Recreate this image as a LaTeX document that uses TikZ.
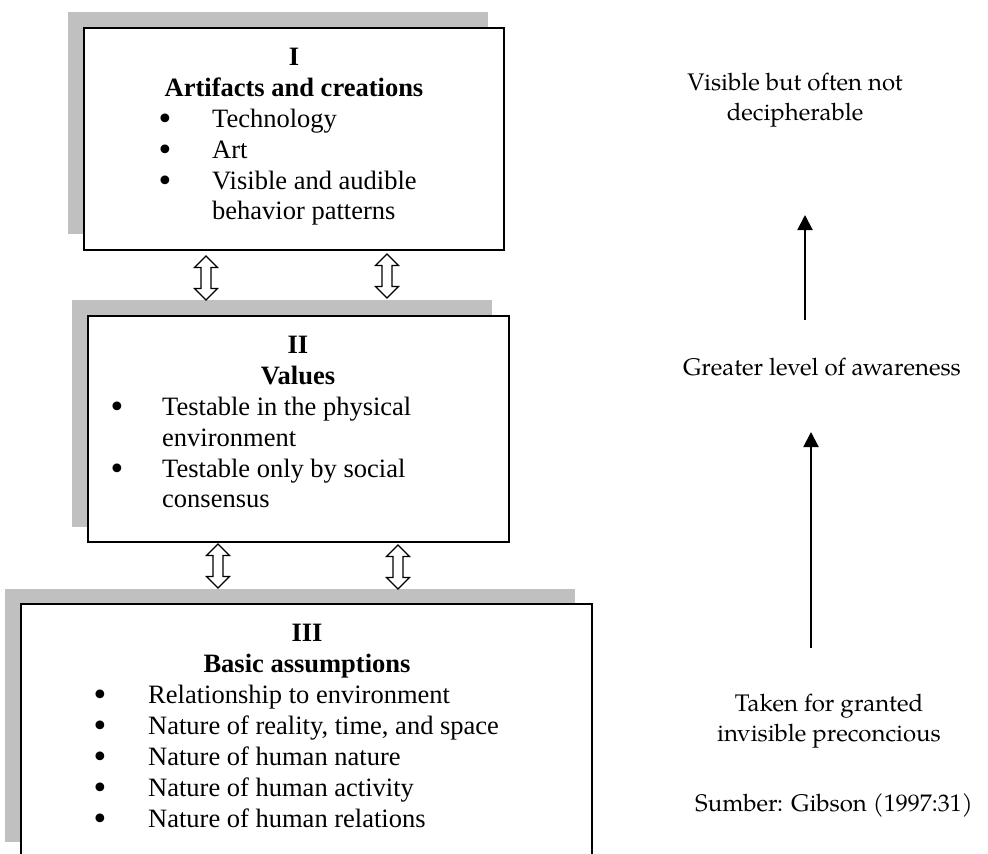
\documentclass[tikz,border=0pt]{standalone}
\usepackage{fontspec}
\setmainfont{Liberation Serif}
\newfontfamily\pal{texgyrepagella-regular.otf}
\newfontfamily\bulfont{DejaVu Sans}
\usetikzlibrary{arrows.meta}
\definecolor{shadowgray}{HTML}{C0C0C0}
\begin{document}
\begin{tikzpicture}[x=1pt,y=-1pt,
  box/.style={rectangle,draw=black,line width=1.8pt,fill=white,inner sep=0pt},
  shadowbox/.style={fill=shadowgray},
  ttl/.style={font=\fontsize{26.5}{31}\selectfont\bfseries,anchor=base,inner sep=0pt},
  bul/.style={font=\fontsize{30}{30}\selectfont\bulfont,anchor=base,inner sep=0pt},
  itm/.style={font=\fontsize{26.5}{31}\selectfont,anchor=base west,inner sep=0pt},
  side/.style={font=\fontsize{24}{30}\selectfont\pal,anchor=base,align=center,inner sep=0pt},
  dbl/.pic={\draw[line width=1.1pt,fill=white,line join=miter]
      (0,-22) -- (11.5,-10.5) -- (5,-10.5) -- (5,10.5) -- (11.5,10.5) -- (0,22)
      -- (-11.5,10.5) -- (-5,10.5) -- (-5,-10.5) -- (-11.5,-10.5) -- cycle;},
  uparrow/.style={line width=2pt,-{Triangle[length=15pt,width=15pt]}}]
\useasboundingbox (0,0) rectangle (988,854);
\clip (0,0) rectangle (988,854);

% shadows
\fill[shadowbox] (68,12) rectangle (488,234);
\fill[shadowbox] (72,300) rectangle (492,527);
\fill[shadowbox] (5,589) rectangle (575,842);

% boxes
\node[box,minimum width=420pt,minimum height=222pt] (b1) at (294,139) {};
\node[box,minimum width=421pt,minimum height=226pt] (b2) at (298.5,429) {};
\node[box,minimum width=571pt,minimum height=254pt] (b3) at (306.5,731) {};

% box I text
\node[ttl] (t1a) at (294,65) {I};
\node[ttl] (t1b) at (294,96) {Artifacts and creations};
\node[bul] (u11) at (165,129) {•};
\node[itm] (i11) at (212,127) {Technology};
\node[bul] (u12) at (165,160) {•};
\node[itm] (i12) at (212,158) {Art};
\node[bul] (u13) at (165,191) {•};
\node[itm] (i13) at (212,189) {Visible and audible};
\node[itm] (i14) at (212,219) {behavior patterns};

% box II text
\node[ttl] (t2a) at (298,353) {II};
\node[ttl] (t2b) at (298,384) {Values};
\node[bul] (u21) at (117,417) {•};
\node[itm] (i21) at (162,415) {Testable in the physical};
\node[itm] (i22) at (162,446) {environment};
\node[bul] (u22) at (117,479) {•};
\node[itm] (i23) at (162,477) {Testable only by social};
\node[itm] (i24) at (162,507) {consensus};

% box III text
\node[ttl] (t3a) at (307,641) {III};
\node[ttl] (t3b) at (307,672) {Basic assumptions};
\node[bul] (u31) at (100,705) {•};
\node[itm] (i31) at (148,703) {Relationship to environment};
\node[bul] (u32) at (100,736) {•};
\node[itm] (i32) at (148,734) {Nature of reality, time, and space};
\node[bul] (u33) at (100,767) {•};
\node[itm] (i33) at (148,765) {Nature of human nature};
\node[bul] (u34) at (100,798) {•};
\node[itm] (i34) at (148,796) {Nature of human activity};
\node[bul] (u35) at (100,829) {•};
\node[itm] (i35) at (148,827) {Nature of human relations};

% double arrows between boxes
\pic (d1) at (206,278) {dbl};
\pic (d2) at (387,276) {dbl};
\pic (d3) at (218,566) {dbl};
\pic (d4) at (398,567) {dbl};

% right column
\node[side] (vis) at (795,120) {Visible but often not\\decipherable};
\node[side] (great) at (822,375) {Greater level of awareness};
\node[side] (taken) at (829,741) {Taken for granted\\invisible preconcious};
\node[side] (src) at (834,811) {Sumber: Gibson (1997:31)};

\coordinate (p1) at (805,320);
\coordinate (q1) at (805,215);
\coordinate (p2) at (811,648);
\coordinate (q2) at (811,432);
\draw[uparrow] (p1) -- (q1);
\draw[uparrow] (p2) -- (q2);
\end{tikzpicture}
\end{document}
